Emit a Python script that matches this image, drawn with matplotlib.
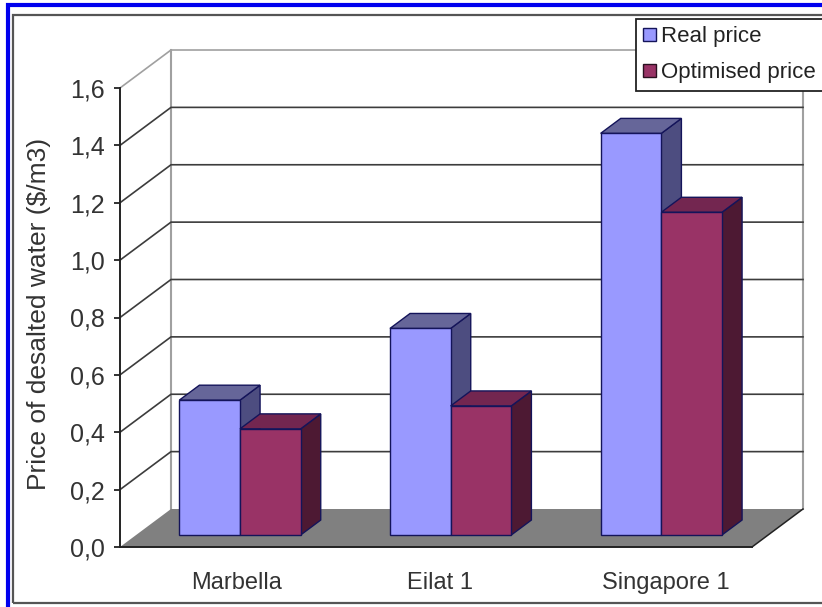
import matplotlib
matplotlib.use("Agg")
import matplotlib.pyplot as plt
from matplotlib.patches import Polygon, Rectangle

plt.rcParams["font.family"] = ["Liberation Sans", "DejaVu Sans"]

WIDTH = 822
HEIGHT = 607

plants = ["Marbella", "Eilat 1", "Singapore 1"]
real_price = [0.47, 0.72, 1.40]
optimised_price = [0.37, 0.45, 1.125]
value_ticks = [0.0, 0.2, 0.4, 0.6, 0.8, 1.0, 1.2, 1.4, 1.6]
value_labels = ["0,0", "0,2", "0,4", "0,6", "0,8", "1,0", "1,2", "1,4", "1,6"]

# Oblique projection: one unit of depth moves this far in data units
DEPTH_X = 51 / 210.67
DEPTH_Y = 38 / 286.9
BAR_FRONT = 0.316
BAR_BACK = 0.71
BAR_START = 0.205
BAR_WIDTH = 0.288
LABEL_X = [0.555, 1.52, 2.59]

GRID = "#3c3c3c"
WALL_EDGE = "#a0a0a0"
BAR_EDGE = "#14145a"


def project(x, y, depth):
    return (x + depth * DEPTH_X, y + depth * DEPTH_Y)


def face(ax, corners, color, edge, zorder, lw=1.0):
    points = [project(*c) for c in corners]
    ax.add_patch(Polygon(points, closed=True, facecolor=color, edgecolor=edge,
                         linewidth=lw, clip_on=False, zorder=zorder))


# Draws one box: side and top first, the front face last
def draw_bar(ax, x, value, front, top, side, zorder):
    x2 = x + BAR_WIDTH
    face(ax, [(x2, 0, BAR_FRONT), (x2, 0, BAR_BACK), (x2, value, BAR_BACK), (x2, value, BAR_FRONT)],
         side, BAR_EDGE, zorder)
    face(ax, [(x, value, BAR_FRONT), (x2, value, BAR_FRONT), (x2, value, BAR_BACK), (x, value, BAR_BACK)],
         top, BAR_EDGE, zorder)
    face(ax, [(x, 0, BAR_FRONT), (x2, 0, BAR_FRONT), (x2, value, BAR_FRONT), (x, value, BAR_FRONT)],
         front, BAR_EDGE, zorder)


fig = plt.figure(figsize=(WIDTH / 100, HEIGHT / 100), dpi=100)
fig.patch.set_facecolor("white")

# Outer frames
fig.add_artist(Rectangle((7.5 / WIDTH, -0.01), 1.0, 1 - 5 / HEIGHT + 0.01, transform=fig.transFigure,
                         facecolor="none", edgecolor="#0000ee", linewidth=3))
fig.add_artist(Rectangle((13 / WIDTH, 4 / HEIGHT), 1.0, 1 - 19 / HEIGHT, transform=fig.transFigure,
                         facecolor="none", edgecolor="#555555", linewidth=1.6))

ax = fig.add_axes([120 / WIDTH, 1 - 547 / HEIGHT, 632 / WIDTH, 459 / HEIGHT])
ax.set_xlim(0, 3)
ax.set_ylim(0, 1.6)
ax.patch.set_alpha(0)

# Back wall and side wall outlines
ax.plot([project(0, 0, 1)[0], project(0, 1.6, 1)[0]], [project(0, 0, 1)[1], project(0, 1.6, 1)[1]],
        color=WALL_EDGE, lw=1.5, clip_on=False, zorder=1)
ax.plot([project(3, 0, 1)[0], project(3, 1.6, 1)[0]], [project(3, 0, 1)[1], project(3, 1.6, 1)[1]],
        color=WALL_EDGE, lw=1.5, clip_on=False, zorder=1)

# Gridlines run along the side wall and then across the back wall
for v in value_ticks[1:]:
    color = WALL_EDGE if v == value_ticks[-1] else GRID
    side_start = project(0, v, 0)
    corner = project(0, v, 1)
    end = project(3, v, 1)
    ax.plot([side_start[0], corner[0], end[0]], [side_start[1], corner[1], end[1]],
            color=color, lw=1.2, clip_on=False, zorder=2)

# Floor
face(ax, [(0, 0, 0), (3, 0, 0), (3, 0, 1), (0, 0, 1)], "#808080", "none", 3)
right_edge = [project(3, 0, 0), project(3, 0, 1)]
ax.plot([p[0] for p in right_edge], [p[1] for p in right_edge], color="#222222", lw=1.1,
        clip_on=False, zorder=3)

for i in range(len(plants)):
    draw_bar(ax, i + BAR_START, real_price[i], "#9999ff", "#666699", "#4d4d80", 4 + i)
    draw_bar(ax, i + BAR_START + BAR_WIDTH, optimised_price[i], "#993366", "#732650", "#4d1933", 4 + i)

for side in ["top", "right"]:
    ax.spines[side].set_visible(False)
for side in ["left", "bottom"]:
    ax.spines[side].set_linewidth(1.4)
    ax.spines[side].set_color("#222222")
    ax.spines[side].set_zorder(10)

ax.set_yticks(value_ticks)
ax.set_yticklabels(value_labels, fontsize=18, color="#333333")
ax.tick_params(axis="y", length=4.5, width=1.3, color="#222222", pad=6.5)
ax.set_xticks(LABEL_X)
ax.set_xticklabels(plants, fontsize=17, color="#333333")
ax.tick_params(axis="x", length=0, pad=18)
ax.set_ylabel("Price of desalted water ($/m3)", fontsize=19, color="#333333")
ax.yaxis.set_label_coords(-0.109, 0.508)

handles = [
    Rectangle((0, 0), 1, 1, facecolor="#9999ff", edgecolor=BAR_EDGE),
    Rectangle((0, 0), 1, 1, facecolor="#993366", edgecolor="#2a1020"),
]
legend = ax.legend(handles, ["Real price", "Optimised price"], loc="upper left",
                   bbox_to_anchor=(636 / WIDTH, 1 - 19 / HEIGHT), bbox_transform=fig.transFigure,
                   fontsize=16, frameon=True, fancybox=False, framealpha=1, edgecolor="#222222",
                   handlelength=0.55, handleheight=0.55, handletextpad=0.25, labelspacing=0.68,
                   borderaxespad=0, borderpad=0.33, labelcolor="#222222")
legend.get_frame().set_linewidth(1.3)
legend.set_zorder(20)

fig.savefig("out.png", dpi=100)
